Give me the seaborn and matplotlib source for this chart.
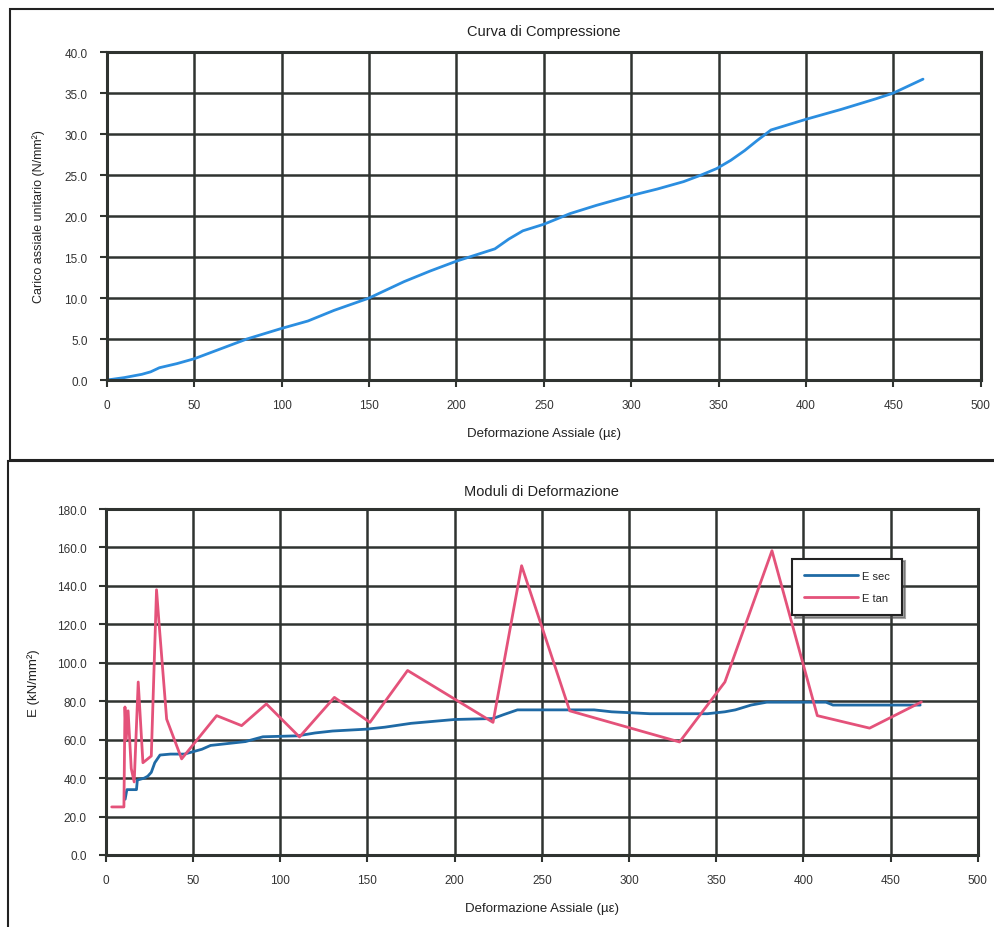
import numpy as np
import pandas as pd
import seaborn as sns
import matplotlib.pyplot as plt
from matplotlib.patches import Rectangle

# Curva di compressione (lettura dal grafico)
def_comp = [0, 10, 20, 25, 30, 40, 50, 65, 80, 100, 115, 130, 150, 170, 185, 200,
            222, 230, 238, 250, 265, 280, 300, 315, 330, 340, 349, 357, 365, 372,
            380, 400, 420, 440, 450, 467]
carico = [0, 0.3, 0.7, 1.0, 1.5, 2.0, 2.6, 3.8, 5.0, 6.3, 7.2, 8.5, 10.0, 12.0, 13.3,
          14.5, 16.0, 17.2, 18.2, 19.0, 20.3, 21.3, 22.5, 23.3, 24.2, 25.0, 25.8,
          26.8, 28.0, 29.2, 30.5, 31.8, 33.0, 34.3, 35.0, 36.7]

# Moduli di deformazione
def_sec = [11, 12, 17.5, 18, 22, 24, 26, 28, 31, 37, 45, 55, 60, 75, 80, 90, 110,
           120, 130, 150, 160, 175, 200, 222, 228, 236, 280, 290, 312, 345, 355,
           361, 370, 379, 413, 417, 467]
e_sec = [29, 34, 34, 39, 40, 41, 43, 48, 52, 52.5, 52.5, 55, 57, 58.5, 59, 61.5,
         62, 63.5, 64.5, 65.5, 66.5, 68.5, 70.5, 71, 73, 75.5, 75.5, 74.5, 73.5,
         73.5, 74.5, 75.5, 78, 79.5, 79.5, 78, 78]

def_tan = [3.3, 10.3, 10.9, 11.6, 12.7, 14.5, 16.2, 18.5, 21.2, 26, 29, 30.5, 34.8,
           43.4, 63.5, 77.8, 92, 111, 131, 151.4, 173, 222, 238.4, 266, 329, 355,
           382, 408, 438, 467.7]
e_tan = [25, 25, 77, 60, 75, 45, 38, 90, 48, 51.5, 138, 120, 70.7, 50, 72.5, 67.3,
         78.6, 61.4, 82, 69, 96, 69, 150.5, 75, 58.8, 90, 158.3, 72.5, 66, 79.6]

df_comp = pd.DataFrame({'x': def_comp, 'y': carico})
df_mod = pd.concat([
    pd.DataFrame({'x': def_sec, 'y': e_sec, 'serie': 'E sec'}),
    pd.DataFrame({'x': def_tan, 'y': e_tan, 'serie': 'E tan'}),
])

sns.set_theme(style='white')
plt.rcParams['font.family'] = ['Liberation Sans', 'DejaVu Sans']

grid_col = '#2f3330'
fig = plt.figure(figsize=(9.94, 9.28), dpi=100)

# riquadri dei pannelli
fig.add_artist(Rectangle((0.010, 0.503), 1.0, 0.486, transform=fig.transFigure,
                         fill=False, lw=1.5, ec='#222222'))
fig.add_artist(Rectangle((0.008, -0.01), 1.0, 0.512, transform=fig.transFigure,
                         fill=False, lw=1.5, ec='#222222'))

ax1 = fig.add_axes([0.1076, 0.5894, 0.879, 0.3534])
ax2 = fig.add_axes([0.1066, 0.0776, 0.877, 0.3728])

sns.lineplot(data=df_comp, x='x', y='y', ax=ax1, color='#2b8ee0', lw=2.0,
             sort=False, estimator=None)

sns.lineplot(data=df_mod, x='x', y='y', hue='serie', ax=ax2,
             palette={'E sec': '#1f6aa5', 'E tan': '#e4527a'}, lw=2.0,
             sort=False, estimator=None)

for ax in (ax1, ax2):
    ax.set_xlim(0, 500)
    ax.set_xticks(range(0, 501, 50))
    ax.grid(True, color=grid_col, lw=1.8)
    ax.set_axisbelow(True)
    for s in ax.spines.values():
        s.set_color(grid_col)
        s.set_linewidth(2.2)
    ax.tick_params(axis='both', direction='out', length=5, width=1.5,
                   color=grid_col, labelsize=8.5, labelcolor='#333333',
                   left=True, bottom=True, pad=9)
    ax.set_xlabel('Deformazione Assiale (µε)', fontsize=9.5, color='#222222',
                  labelpad=11)

ax1.set_ylim(0, 40)
ax1.set_yticks(np.arange(0, 40.1, 5))
ax1.set_yticklabels([f'{v:.1f}' for v in np.arange(0, 40.1, 5)])
ax1.set_ylabel('Carico assiale unitario (N/mm²)', fontsize=9, color='#222222',
               labelpad=14)
ax1.set_title('Curva di Compressione', fontsize=10.5, color='#222222', pad=12)

ax2.set_ylim(0, 180)
ax2.set_yticks(np.arange(0, 181, 20))
ax2.set_yticklabels([f'{v:.1f}' for v in np.arange(0, 181, 20)])
ax2.set_ylabel('E (kN/mm²)', fontsize=9.5, color='#222222', labelpad=12)
ax2.set_title('Moduli di Deformazione', fontsize=10.5, color='#222222', pad=10)

leg = ax2.legend(loc='upper left', bbox_to_anchor=(0.787, 0.857), fontsize=8,
                 frameon=True, fancybox=False, edgecolor='#222222', framealpha=1,
                 shadow=True, handlelength=4.8, borderpad=1.1, labelspacing=1.1,
                 handletextpad=0.4, borderaxespad=0)
leg.get_frame().set_linewidth(1.5)

fig.savefig('out.png', dpi=100, facecolor='white')
